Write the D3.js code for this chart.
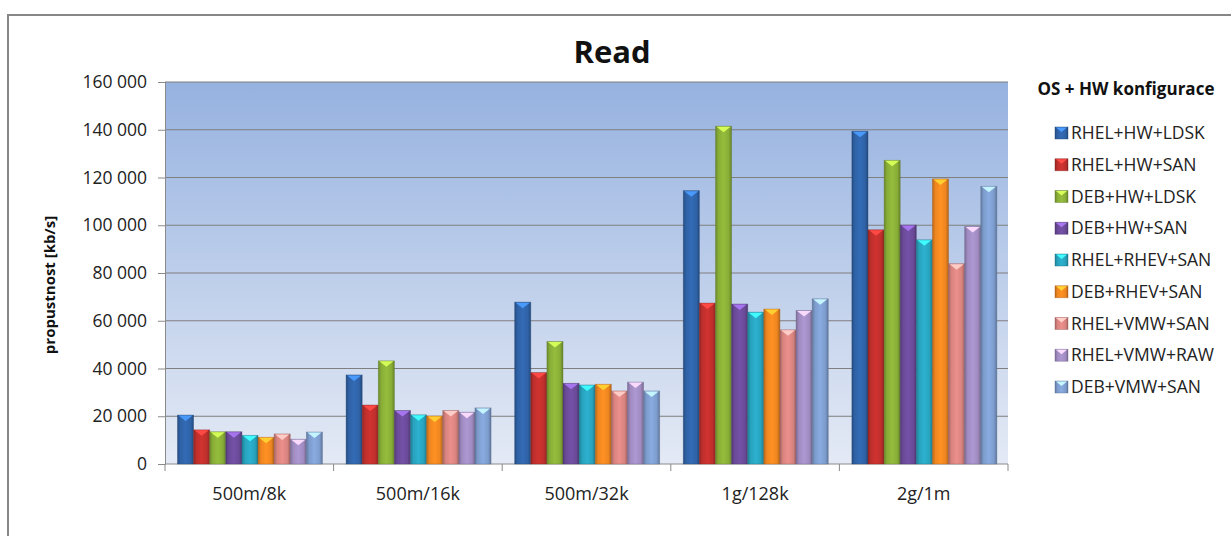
<!DOCTYPE html>
<html>
<head>
<meta charset="utf-8">
<script src="https://cdn.jsdelivr.net/npm/d3@7"></script>
<style>
  html, body { margin: 0; padding: 0; background: #fff; }
  svg { display: block; font-family: "Open Sans", sans-serif; }
</style>
</head>
<body>
<svg id="chart" width="1231" height="536"></svg>
<script>
// Workload categories (file size / block size)
const categories = ["500m/8k", "500m/16k", "500m/32k", "1g/128k", "2g/1m"];

// OS + HW configurations
const seriesNames = [
  "RHEL+HW+LDSK", "RHEL+HW+SAN", "DEB+HW+LDSK", "DEB+HW+SAN",
  "RHEL+RHEV+SAN", "DEB+RHEV+SAN", "RHEL+VMW+SAN", "RHEL+VMW+RAW", "DEB+VMW+SAN"
];

// Read throughput [kb/s], one array per configuration, in category order
const rhelHwLdsk  = [20500, 37300, 67800, 114500, 139400];
const rhelHwSan   = [14300, 24700, 38300, 67400, 98100];
const debHwLdsk   = [13500, 43200, 51300, 141500, 127200];
const debHwSan    = [13500, 22400, 33800, 67000, 100100];
const rhelRhevSan = [12000, 20600, 33100, 63600, 93900];
const debRhevSan  = [11200, 20100, 33400, 64900, 119400];
const rhelVmwSan  = [12600, 22400, 30600, 56200, 83900];
const rhelVmwRaw  = [10400, 21700, 34300, 64300, 99500];
const debVmwSan   = [13400, 23500, 30600, 69200, 116300];

const seriesValues = [rhelHwLdsk, rhelHwSan, debHwLdsk, debHwSan,
  rhelRhevSan, debRhevSan, rhelVmwSan, rhelVmwRaw, debVmwSan];

const yTicks = [0, 20000, 40000, 60000, 80000, 100000, 120000, 140000, 160000];

const colors = ["#2f62a6", "#be2f2c", "#88ad37", "#6a4a98", "#28a2bd",
  "#ee8520", "#d8837f", "#9f8bc0", "#7d9ccd"];

const svg = d3.select("#chart");
const W = 1231, H = 536;
const plot = { left: 165, right: 1008, top: 82, bottom: 464 };

// Outer frame of the chart
svg.append("rect")
  .attr("x", 8).attr("y", 15)
  .attr("width", W + 20).attr("height", H + 20)
  .attr("fill", "#fff").attr("stroke", "#878787").attr("stroke-width", 2);

const defs = svg.append("defs");
const bg = defs.append("linearGradient").attr("id", "plotBg")
  .attr("x1", 0).attr("y1", 0).attr("x2", 0).attr("y2", 1);
bg.append("stop").attr("offset", "0%").attr("stop-color", "#96b2e0");
bg.append("stop").attr("offset", "100%").attr("stop-color", "#e4eaf5");

// Horizontal shading for the bevelled bars
colors.forEach((c, i) => {
  const g = defs.append("linearGradient").attr("id", "bar" + i)
    .attr("x1", 0).attr("y1", 0).attr("x2", 1).attr("y2", 0);
  const base = d3.color(c);
  g.append("stop").attr("offset", "0%").attr("stop-color", base.darker(0.7));
  g.append("stop").attr("offset", "18%").attr("stop-color", base);
  g.append("stop").attr("offset", "50%").attr("stop-color", base.brighter(0.25));
  g.append("stop").attr("offset", "82%").attr("stop-color", base);
  g.append("stop").attr("offset", "100%").attr("stop-color", base.darker(0.8));
});

const x0 = d3.scaleBand().domain(categories).range([plot.left, plot.right]).padding(0);
const groupInset = x0.bandwidth() * 0.074;
const groupWidth = x0.bandwidth() * 0.86;
const x1 = d3.scaleBand().domain(d3.range(seriesNames.length))
  .range([groupInset, groupInset + groupWidth]).padding(0);
const y = d3.scaleLinear().domain([0, 160000]).range([plot.bottom, plot.top]);

// Plot area background
svg.append("rect")
  .attr("x", plot.left).attr("y", plot.top)
  .attr("width", plot.right - plot.left).attr("height", plot.bottom - plot.top)
  .attr("fill", "url(#plotBg)");

// Gridlines
svg.append("g").selectAll("line").data(yTicks.filter(d => d > 0)).join("line")
  .attr("x1", plot.left).attr("x2", plot.right)
  .attr("y1", d => y(d)).attr("y2", d => y(d))
  .attr("stroke", "#7f7f7f").attr("stroke-width", 1);

// Y axis
const yAxis = svg.append("g").attr("transform", `translate(${plot.left},0)`)
  .call(d3.axisLeft(y).tickValues(yTicks).tickSize(7).tickPadding(11)
    .tickFormat(d => d3.format(",")(d).replace(/,/g, " ")));
yAxis.select(".domain").attr("stroke", "#8a8a8a");
yAxis.selectAll(".tick line").attr("stroke", "#8a8a8a");
yAxis.selectAll("text").attr("font-size", 17.5).attr("fill", "#222")
  .attr("font-family", "Open Sans, sans-serif");

// X axis with ticks on category boundaries
const xAxisG = svg.append("g").attr("transform", `translate(0,${plot.bottom})`);
xAxisG.append("line").attr("x1", plot.left).attr("x2", plot.right)
  .attr("y1", 0).attr("y2", 0).attr("stroke", "#8a8a8a");
xAxisG.selectAll("line.b").data(d3.range(categories.length + 1)).join("line")
  .attr("class", "b")
  .attr("x1", i => plot.left + i * x0.bandwidth())
  .attr("x2", i => plot.left + i * x0.bandwidth())
  .attr("y1", 0).attr("y2", 7).attr("stroke", "#8a8a8a");
xAxisG.selectAll("text").data(categories).join("text")
  .attr("x", d => x0(d) + x0.bandwidth() / 2)
  .attr("y", 36)
  .attr("text-anchor", "middle")
  .attr("font-size", 18).attr("fill", "#222")
  .text(d => d);

// Bars
const groups = svg.append("g").selectAll("g").data(categories).join("g")
  .attr("transform", d => `translate(${x0(d)},0)`);

groups.each(function (cat, ci) {
  const g = d3.select(this);
  seriesValues.forEach((vals, si) => {
    const v = vals[ci];
    const bx = x1(si), bw = x1.bandwidth();
    const top = y(v);
    g.append("rect")
      .attr("x", bx).attr("y", top)
      .attr("width", bw).attr("height", plot.bottom - top)
      .attr("fill", `url(#bar${si})`)
      .attr("stroke", d3.color(colors[si]).darker(1).formatHex())
      .attr("stroke-opacity", 0.45).attr("stroke-width", 0.8);
    // bevelled top facet
    const tri = d3.path();
    tri.moveTo(bx + 1, top + 0.5);
    tri.lineTo(bx + bw - 1, top + 0.5);
    tri.lineTo(bx + bw / 2, top + 6);
    tri.closePath();
    g.append("path").attr("d", tri.toString())
      .attr("fill", d3.color(colors[si]).brighter(1.3).formatHex())
      .attr("opacity", 0.95);
  });
});

// Title
svg.append("text")
  .attr("x", 612).attr("y", 63)
  .attr("text-anchor", "middle")
  .attr("font-size", 31).attr("font-weight", 700).attr("fill", "#111")
  .text("Read");

// Y axis title
svg.append("text")
  .attr("transform", "translate(55,285) rotate(-90)")
  .attr("text-anchor", "middle")
  .attr("font-size", 15).attr("font-weight", 700).attr("fill", "#111")
  .text("propustnost [kb/s]");

// Legend
const legend = svg.append("g");
legend.append("text")
  .attr("x", 1126).attr("y", 95)
  .attr("text-anchor", "middle")
  .attr("font-size", 17).attr("font-weight", 700).attr("fill", "#111")
  .text("OS + HW konfigurace");

const ly = d3.scalePoint().domain(seriesNames).range([133, 387]);
const items = legend.selectAll("g.item").data(seriesNames).join("g")
  .attr("class", "item")
  .attr("transform", d => `translate(1055,${ly(d)})`);
items.append("rect")
  .attr("x", 0).attr("y", -6).attr("width", 13).attr("height", 12)
  .attr("fill", (d, i) => `url(#bar${i})`)
  .attr("stroke", (d, i) => d3.color(colors[i]).darker(1).formatHex())
  .attr("stroke-opacity", 0.5).attr("stroke-width", 0.8);
items.append("path")
  .attr("d", "M1,-5.5L12,-5.5L6.5,-1Z")
  .attr("fill", (d, i) => d3.color(colors[i]).brighter(1.3).formatHex());
items.append("text")
  .attr("x", 16).attr("y", 6)
  .attr("font-size", 17.5).attr("fill", "#222")
  .text(d => d);
</script>
</body>
</html>
